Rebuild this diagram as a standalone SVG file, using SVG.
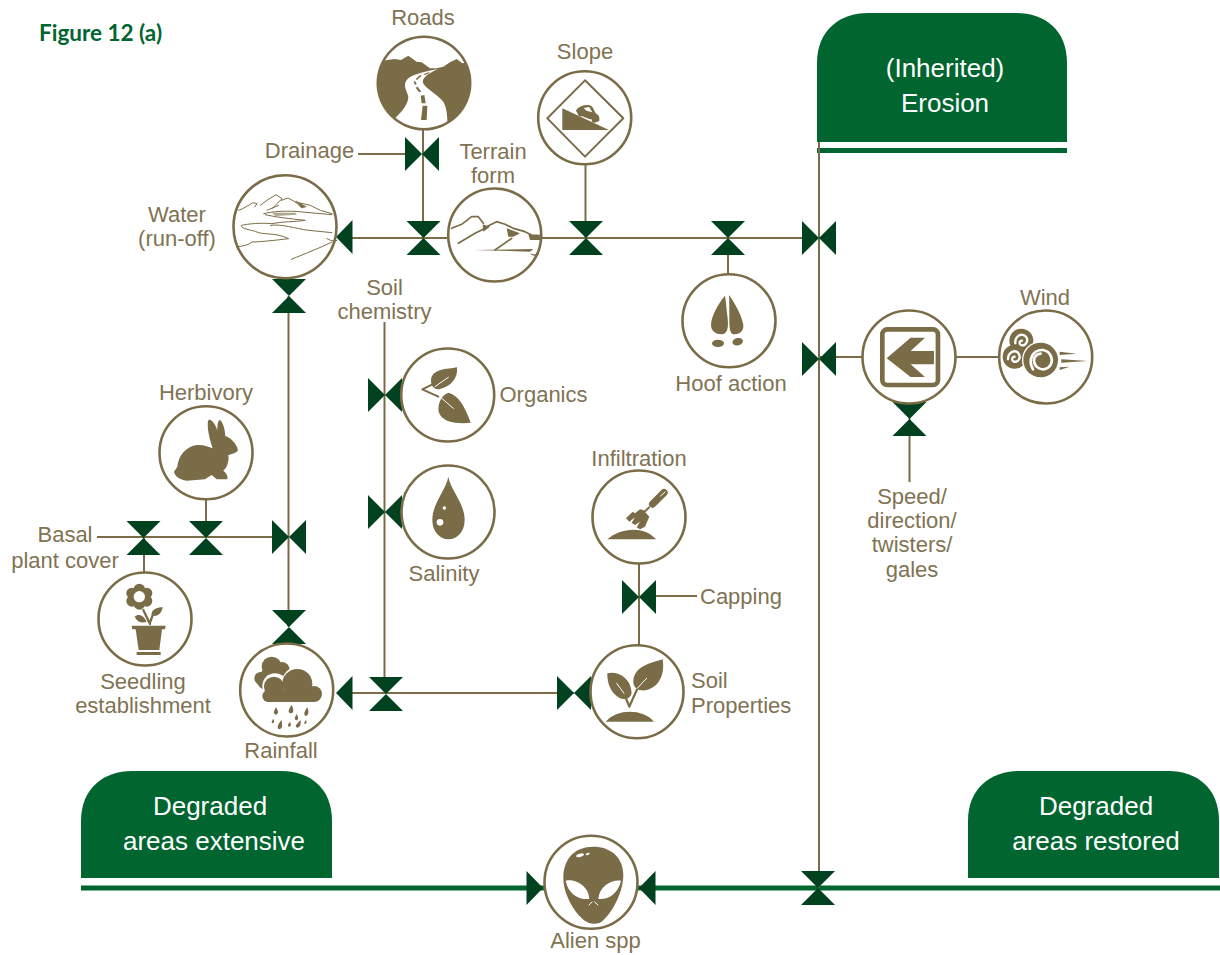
<svg xmlns="http://www.w3.org/2000/svg" width="1220" height="955" viewBox="0 0 1220 955">
<style>
.l{fill:none;stroke:#7a6c47;stroke-width:2}
.g{fill:none;stroke:#00652f;stroke-width:5}
.c{fill:#fff;stroke:#7a6c47;stroke-width:2.600}
.f{fill:#7a6c47}
.w{fill:#fff}
.v{fill:#004220}
.o{fill:none;stroke:#7a6c47;stroke-linecap:round;stroke-linejoin:round}
.x{fill:none;stroke:#fff;stroke-linecap:round}
.b{fill:#00652f}
text{font-family:"Liberation Sans",Arial,sans-serif;font-size:22px;fill:#7f7353;text-anchor:middle}
text.h{font-size:26px;fill:#fff}
text.s{text-anchor:start}
text.fig{font-family:Lato,"Liberation Sans",sans-serif;font-weight:700;font-size:22.500px;fill:#00652f;text-anchor:start}
</style>
<defs>
<path id="hg" class="v" d="M-17-17H17L-17 17H17Z"/>
<path id="bt" class="v" d="M-17-17V17L17-17V17Z"/>
<path id="al" class="v" d="M-8 0L8.500-17V17Z"/>
<path id="ar" class="v" d="M8 0L-8.500-17V17Z"/>
<clipPath id="cr"><circle cx="147" cy="144" r="135"/></clipPath>
</defs>
<rect width="1220" height="955" fill="#fff"/>
<text class="fig" x="39" y="41">Figure 12 (a)</text>

<g id="boxes">
<g id="erosion"><path class="b" d="M817 142V63C817 30 840 13 868 13H1016C1045 13 1067 30 1067 63V142Z"/><rect class="b" x="817" y="148" width="250" height="5"/><text class="h" x="945" y="77">(Inherited)</text><text class="h" x="945" y="112">Erosion</text></g>
<g id="degraded-extensive"><path class="b" d="M81 878V821C81 788 104 771 132 771H281C310 771 332 788 332 821V878Z"/><text class="h" x="210" y="815">Degraded</text><text class="h" x="214" y="850">areas extensive</text></g>
<g id="degraded-restored"><path class="b" d="M968 878V821C968 788 991 771 1019 771H1168C1197 771 1219 788 1219 821V878Z"/><text class="h" x="1096" y="815">Degraded</text><text class="h" x="1096" y="850">areas restored</text></g>
</g>

<g id="connectors">
<path class="g" d="M81 888H1220"/>
<path class="l" d="M423 130V238M358 154H405M352 238H447M541 238H819M585.500 165V238M728 238V274M288.500 296V627M97 537H289M144 537V572M206 499V538M384.500 322V694M352 693H574M639 564V645M655 596H697M819 142V888M819 357H863M955 357H999M909.500 404V482"/>
<use href="#bt" x="422" y="154"/>
<use href="#hg" x="423.500" y="238"/>
<use href="#hg" x="586" y="238"/>
<use href="#hg" x="728" y="238"/>
<use href="#bt" x="819" y="238"/>
<use href="#bt" x="819" y="359"/>
<use href="#hg" x="909.500" y="419"/>
<use href="#hg" x="289" y="296"/>
<use href="#hg" x="143.500" y="538"/>
<use href="#hg" x="206" y="538"/>
<use href="#bt" x="289" y="537"/>
<use href="#hg" x="289" y="627"/>
<use href="#bt" x="385" y="395"/>
<use href="#bt" x="385" y="512"/>
<use href="#hg" x="386" y="694"/>
<use href="#bt" x="574" y="693"/>
<use href="#bt" x="639" y="597"/>
<use href="#al" x="344" y="237"/>
<use href="#al" x="344" y="693"/>
<use href="#ar" x="535" y="888"/>
<use href="#al" x="647" y="888"/>
<use href="#hg" x="818" y="888"/>
</g>

<g id="roads"><text x="423" y="25">Roads</text>
<circle class="f" cx="424" cy="83" r="47.500"/>
<g transform="translate(375 35) scale(.3333)">
<g clip-path="url(#cr)">
<path class="w" d="M0 0H300V78L262 85L245 72L225 82L205 95L185 100L165 100L140 82L125 80L100 62L78 75L60 72L35 75L0 85Z"/>
<path class="w" d="M60 300V250C85 225 100 205 100 185C95 165 80 150 100 130C120 115 160 108 190 102C165 112 145 125 143 140C148 160 185 175 205 200C215 220 218 235 218 300Z"/>
</g>
<path class="f" d="M138 255H155L157 212H143ZM140 205H152L148 180L137 182ZM132 172L139 170L128 155L122 158ZM120 150L125 147L120 138L116 140ZM122 132L126 135L140 122L136 120ZM145 118L150 120L165 113L160 112Z"/>
</g></g>

<g id="slope"><text x="585" y="59">Slope</text>
<circle class="c" cx="584.700" cy="117.700" r="46.500"/>
<g transform="translate(535 70) scale(.3333)">
<path class="o" stroke-width="6" d="M150 31L265 145L150 260L37 145Z"/>
<path class="f" d="M82 115L222 180H82Z"/>
<path class="f" d="M123 122C125 115 135 110 140 108C150 104 165 103 172 110L182 130C190 135 195 140 193 152L186 157C180 148 172 148 165 148L130 134Z"/>
<path class="w" d="M146 114L163 111L172 127L154 122Z"/>
<circle class="f" cx="137" cy="131" r="8"/><circle class="f" cx="178" cy="150" r="8"/>
</g></g>

<g id="water"><text x="177" y="222">Water</text><text x="177" y="246">(run-off)</text>
<circle class="c" cx="285" cy="226.700" r="51.500"/>
<g transform="translate(232 172) scale(.3333)">
<path class="o" stroke-width="3" d="M20 115C35 110 50 100 62 92L75 95L68 105M85 100L105 85L132 68L150 80L120 110M148 85L168 78L190 90L235 100L265 115L300 125M105 115L140 100M190 90L210 108M95 125C120 118 170 115 210 120L300 128M100 128C130 135 170 140 220 145C190 150 150 148 120 155C90 152 50 155 28 160C25 168 45 172 70 178C90 190 130 180 170 200C130 205 80 210 60 210C50 220 30 222 15 225M115 160C150 155 190 170 230 175L300 182M178 262C220 245 270 225 300 210M285 200C295 205 305 210 315 205"/>
<path class="f" d="M120 122H190L195 128L130 132Z" opacity=".6"/>
<path class="f" d="M190 85L225 105L210 108Z"/>
</g></g>

<g id="terrain"><text x="493" y="159">Terrain</text><text x="493" y="183">form</text>
<circle class="c" cx="494.700" cy="235" r="46.500"/>
<g transform="translate(445 185) scale(.3333)">
<path class="o" stroke-width="5" d="M20 130L50 118L80 95L100 95L115 115M40 175L90 145L110 135L135 120L155 110L180 118L205 130L240 140L260 150L285 152M150 195L200 160"/>
<path class="f" d="M113 118L135 125L115 140ZM185 130L225 145L205 155L190 155ZM250 148L290 155L285 165L255 165ZM85 195L265 192L255 200ZM255 205C265 210 275 208 280 200L283 208C270 215 260 212 255 205Z"/>
</g></g>

<g id="hoof"><text x="731" y="391">Hoof action</text>
<circle class="c" cx="729" cy="320.700" r="46.500"/>
<g transform="translate(660 210) scale(.3333)">
<path class="f" d="M195 257C175 280 153 320 153 345C153 368 175 375 190 372C205 368 205 345 203 325C200 300 198 275 195 257Z"/>
<path class="f" d="M207 255C225 280 247 320 250 345C252 368 232 375 218 372C208 368 208 345 208 325C208 300 208 275 207 255Z"/>
<ellipse class="f" cx="174" cy="400" rx="18" ry="11"/>
<ellipse class="f" cx="233" cy="395" rx="16" ry="11" transform="rotate(-12 233 395)"/>
</g></g>

<g id="direction">
<circle class="c" cx="909" cy="357" r="46.500"/>
<g transform="translate(660 210) scale(.3333)">
<rect x="667" y="358" width="167" height="167" rx="15" fill="none" stroke="#7a6c47" stroke-width="14"/>
<path class="f" d="M680 445L752 383H795L752 423H822V463H752L795 501H752Z"/>
</g></g>
<text x="912" y="504">Speed/</text><text x="912" y="528">direction/</text><text x="912" y="552">twisters/</text><text x="912" y="577">gales</text>

<g id="wind"><text x="1045" y="305">Wind</text>
<circle class="c" cx="1045.700" cy="357" r="46.500"/>
<g transform="translate(998 310) scale(.3333)">
<circle class="f" cx="70" cy="92" r="36"/>
<path class="x" stroke-width="7" d="M52 100C50 80 68 68 82 78C94 90 84 108 70 106C62 102 64 92 72 92"/>
<circle class="f" cx="50" cy="140" r="36"/>
<path class="x" stroke-width="7" d="M30 148C30 128 48 118 60 128C72 142 60 160 46 154C40 150 42 140 50 140"/>
<circle class="w" cx="128" cy="150" r="56"/>
<circle class="f" cx="128" cy="150" r="52"/>
<path class="x" stroke-width="8" d="M105 178C88 150 105 118 135 120C160 124 170 155 152 172C135 186 108 174 108 150C110 138 118 132 128 131"/>
<circle class="f" cx="130" cy="152" r="0"/>
<path class="f" d="M185 125L236 131L185 135ZM190 148L270 153L190 158ZM185 172L215 170L185 180Z"/>
</g></g>

<g id="herbivory"><text x="206" y="400">Herbivory</text>
<circle class="c" cx="206" cy="452.700" r="46.500"/>
<g transform="translate(90 400) scale(.3333)">
<path class="f" d="M354 62C362 52 378 75 382 92C382 75 384 60 390 60C400 68 405 90 406 108C420 112 440 130 444 150C440 160 425 162 415 165C418 185 410 205 400 212C410 220 415 230 412 238L380 238L365 225L345 238L290 242C270 238 255 230 252 215L262 200C265 170 285 140 320 135C340 133 355 140 368 145C362 125 350 90 354 62Z"/>
</g></g>

<g id="seedling"><text x="143" y="689">Seedling</text><text x="143" y="713">establishment</text>
<circle class="c" cx="145" cy="619" r="46.500"/>
<g transform="translate(90 400) scale(.3333)">
<g class="f"><circle cx="148" cy="568" r="17"/><circle cx="170" cy="580" r="17"/><circle cx="170" cy="603" r="17"/><circle cx="148" cy="612" r="17"/><circle cx="126" cy="603" r="17"/><circle cx="126" cy="580" r="17"/><circle cx="148" cy="590" r="26"/></g>
<circle class="w" cx="148" cy="590" r="17"/>
<path class="o" stroke-width="7" d="M160 630L180 672M180 668L190 640"/>
<path class="f" d="M218 622C200 622 183 630 185 645C192 652 214 648 218 622ZM134 650C145 640 162 646 170 666C155 670 142 666 134 650Z"/>
<path class="f" d="M125 677H227L225 688H216L208 750H146L137 688H127ZM140 756H212V765H140Z"/>
</g></g>

<g id="rainfall"><text x="281" y="758">Rainfall</text>
<circle class="c" cx="286.700" cy="690" r="46.500"/>
<g transform="translate(90 400) scale(.3333)">
<g class="f"><circle cx="545" cy="800" r="30"/><circle cx="575" cy="810" r="24"/><circle cx="512" cy="835" r="19"/><circle cx="530" cy="840" r="30"/></g>
<g class="w"><circle cx="555" cy="858" r="38"/><circle cx="625" cy="850" r="50"/></g>
<g class="f"><circle cx="552" cy="860" r="30"/><circle cx="622" cy="852" r="45"/><circle cx="672" cy="882" r="24"/><circle cx="535" cy="888" r="18"/><rect x="530" y="870" width="142" height="36"/></g>
<path class="f" d="M558 922C552 932 548 942 558 944C568 942 564 930 558 922ZM605 914C598 925 590 938 603 940C614 938 610 925 605 914ZM652 922C645 932 638 945 648 948C658 945 656 932 652 922ZM620 942C616 950 610 958 620 961C628 958 624 950 620 942ZM575 960C565 970 558 985 568 988C580 985 576 972 575 960ZM600 965C596 970 590 978 598 980C606 978 602 970 600 965ZM632 960C625 968 610 978 622 983C634 980 632 970 632 960ZM550 956C546 962 542 968 549 969C555 968 552 962 550 956ZM648 960C645 964 640 970 645 972C652 970 650 965 648 960Z"/>
</g></g>

<g id="organics"><text x="543.500" y="402">Organics</text>
<circle class="c" cx="447.700" cy="395" r="46.500"/>
<g transform="translate(360 340) scale(.3333)">
<path class="f" d="M291 82C262 88 215 85 213 122C213 140 225 150 240 147C272 140 295 115 291 82Z"/>
<path class="f" d="M332 248C300 252 245 250 236 215C232 190 245 165 265 158C295 165 315 200 332 248Z"/>
<path class="o" stroke-width="6" d="M228 128L187 148L235 170"/>
<path class="x" stroke-width="3" d="M225 140L265 112M242 172L280 205"/>
</g></g>

<g id="salinity"><text x="444" y="581">Salinity</text>
<circle class="c" cx="448" cy="512" r="46.500"/>
<g transform="translate(360 340) scale(.3333)">
<path class="f" d="M265 410C258 450 217 490 217 540C217 575 240 598 265 598C292 598 314 575 314 540C314 490 272 450 265 410Z"/>
<circle class="w" cx="240" cy="547" r="10"/><circle class="w" cx="253" cy="504" r="5"/>
</g></g>

<g id="infiltration"><text x="639" y="466">Infiltration</text>
<circle class="c" cx="639" cy="517" r="46.500"/>
<g transform="translate(590 470) scale(.3333)">
<path class="f" d="M52 208C90 175 160 165 198 208Z"/>
<path class="o" stroke-width="22" d="M222 68L188 102"/>
<path class="x" stroke-width="3" d="M225 66L212 78"/>
<path class="o" stroke-width="6" d="M178 112L160 128"/>
<path class="f" d="M160 120L178 140L165 170L150 178L140 172L150 155L135 165L125 158L135 142L118 155L108 145L128 125L135 130L150 118Z"/>
</g></g>
<text class="s" x="700" y="604">Capping</text>

<g id="soil-properties"><text class="s" x="691" y="688">Soil</text><text class="s" x="691" y="713">Properties</text>
<circle class="c" cx="637" cy="691.700" r="46.500"/>
<g transform="translate(360 340) scale(.3333)">
<path class="f" d="M737 1145C770 1105 850 1105 882 1145Z"/>
<path class="f" d="M908 958C880 968 825 975 820 1022C818 1045 840 1055 860 1050C900 1040 915 1000 908 958Z"/>
<path class="f" d="M742 1000C770 992 812 1010 815 1058C812 1078 790 1082 775 1072C750 1055 742 1030 742 1000Z"/>
<path class="o" stroke-width="7" d="M790 1055L808 1100L835 1040"/>
<path class="x" stroke-width="3" d="M832 1045L860 1015M792 1060L770 1030"/>
</g></g>

<g id="alien"><text x="595.500" y="948">Alien spp</text>
<circle class="c" cx="591" cy="882.300" r="46.500"/>
<g transform="translate(500 820) scale(.3333)">
<path class="f" d="M280 80C225 80 190 115 190 175C190 235 240 300 265 308C275 312 290 312 300 308C325 295 370 225 370 165C370 110 330 80 280 80Z"/>
<path class="w" d="M197 182C225 176 267 198 268 237C240 240 205 225 197 182ZM363 182C335 178 298 198 295 237C325 240 355 220 363 182Z"/>
<ellipse class="w" cx="240" cy="106" rx="12" ry="5" transform="rotate(-15 240 106)"/><ellipse class="w" cx="263" cy="102" rx="6" ry="3" transform="rotate(-15 263 102)"/>
<path class="x" stroke-width="3" d="M267 255L276 246M284 246L294 255"/>
</g></g>

<text x="309.500" y="158">Drainage</text>
<text x="384.500" y="295">Soil</text><text x="384.500" y="319">chemistry</text>
<text x="65" y="542">Basal</text><text x="65" y="568">plant cover</text>
</svg>
